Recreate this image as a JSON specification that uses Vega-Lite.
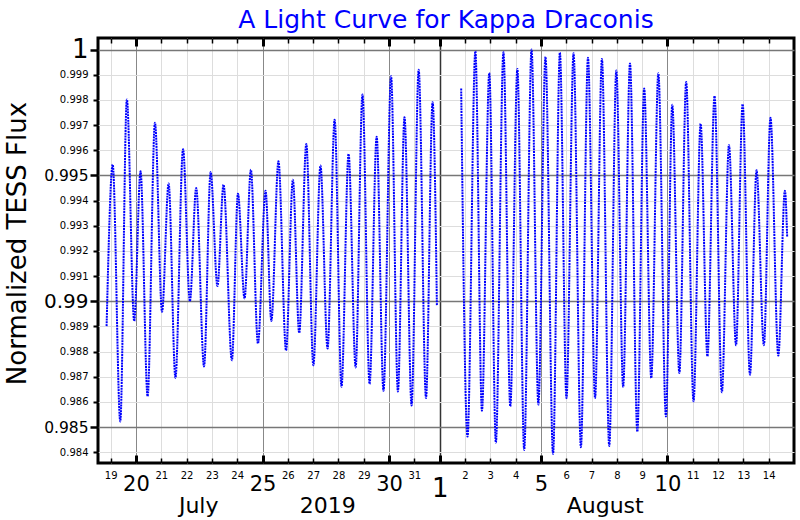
{
  "$schema": "https://vega.github.io/schema/vega-lite/v6.json",
  "width": 696,
  "height": 425,
  "autosize": "none",
  "padding": {"left": 98, "top": 38, "right": 6, "bottom": 57},
  "config": {
    "font": "DejaVu Sans",
    "view": {"stroke": "black", "strokeWidth": 3},
    "axis": {"labelColor": "black", "tickColor": "black", "domain": false, "labelFont": "DejaVu Sans", "titleFont": "DejaVu Sans"}
  },
  "title": {
    "text": "A Light Curve for Kappa Draconis",
    "color": "#0000ff",
    "fontSize": 25,
    "fontWeight": "normal",
    "font": "DejaVu Sans",
    "anchor": "middle",
    "offset": 4
  },
  "data": {
    "values": [
      {"day": 18.84, "flux": 0.98901, "seg": "a"},
      {"day": 19.08, "flux": 0.99543, "seg": "a"},
      {"day": 19.38, "flux": 0.98522, "seg": "a"},
      {"day": 19.64, "flux": 0.99802, "seg": "a"},
      {"day": 19.93, "flux": 0.98921, "seg": "a"},
      {"day": 20.18, "flux": 0.99516, "seg": "a"},
      {"day": 20.46, "flux": 0.98622, "seg": "a"},
      {"day": 20.75, "flux": 0.99709, "seg": "a"},
      {"day": 21.03, "flux": 0.98958, "seg": "a"},
      {"day": 21.29, "flux": 0.99468, "seg": "a"},
      {"day": 21.56, "flux": 0.98695, "seg": "a"},
      {"day": 21.86, "flux": 0.99604, "seg": "a"},
      {"day": 22.13, "flux": 0.99000, "seg": "a"},
      {"day": 22.38, "flux": 0.99450, "seg": "a"},
      {"day": 22.69, "flux": 0.98741, "seg": "a"},
      {"day": 22.95, "flux": 0.99513, "seg": "a"},
      {"day": 23.22, "flux": 0.99060, "seg": "a"},
      {"day": 23.46, "flux": 0.99463, "seg": "a"},
      {"day": 23.79, "flux": 0.98765, "seg": "a"},
      {"day": 24.03, "flux": 0.99427, "seg": "a"},
      {"day": 24.29, "flux": 0.99011, "seg": "a"},
      {"day": 24.54, "flux": 0.99522, "seg": "a"},
      {"day": 24.82, "flux": 0.98832, "seg": "a"},
      {"day": 25.12, "flux": 0.99439, "seg": "a"},
      {"day": 25.35, "flux": 0.98921, "seg": "a"},
      {"day": 25.63, "flux": 0.99556, "seg": "a"},
      {"day": 25.93, "flux": 0.98804, "seg": "a"},
      {"day": 26.20, "flux": 0.99483, "seg": "a"},
      {"day": 26.45, "flux": 0.98874, "seg": "a"},
      {"day": 26.73, "flux": 0.99625, "seg": "a"},
      {"day": 27.01, "flux": 0.98745, "seg": "a"},
      {"day": 27.29, "flux": 0.99539, "seg": "a"},
      {"day": 27.57, "flux": 0.98812, "seg": "a"},
      {"day": 27.85, "flux": 0.99721, "seg": "a"},
      {"day": 28.12, "flux": 0.98660, "seg": "a"},
      {"day": 28.40, "flux": 0.99585, "seg": "a"},
      {"day": 28.68, "flux": 0.98737, "seg": "a"},
      {"day": 28.95, "flux": 0.99821, "seg": "a"},
      {"day": 29.23, "flux": 0.98671, "seg": "a"},
      {"day": 29.51, "flux": 0.99654, "seg": "a"},
      {"day": 29.78, "flux": 0.98644, "seg": "a"},
      {"day": 30.08, "flux": 0.99894, "seg": "a"},
      {"day": 30.35, "flux": 0.98641, "seg": "a"},
      {"day": 30.61, "flux": 0.99731, "seg": "a"},
      {"day": 30.89, "flux": 0.98586, "seg": "a"},
      {"day": 31.17, "flux": 0.99920, "seg": "a"},
      {"day": 31.46, "flux": 0.98615, "seg": "a"},
      {"day": 31.72, "flux": 0.99791, "seg": "a"},
      {"day": 31.89, "flux": 0.98983, "seg": "a"},
      {"day": 32.85, "flux": 0.99845, "seg": "b"},
      {"day": 33.10, "flux": 0.98462, "seg": "b"},
      {"day": 33.41, "flux": 0.99993, "seg": "b"},
      {"day": 33.67, "flux": 0.98565, "seg": "b"},
      {"day": 33.96, "flux": 0.99907, "seg": "b"},
      {"day": 34.22, "flux": 0.98438, "seg": "b"},
      {"day": 34.52, "flux": 0.99989, "seg": "b"},
      {"day": 34.79, "flux": 0.98582, "seg": "b"},
      {"day": 35.07, "flux": 0.99923, "seg": "b"},
      {"day": 35.34, "flux": 0.98409, "seg": "b"},
      {"day": 35.63, "flux": 1.00000, "seg": "b"},
      {"day": 35.90, "flux": 0.98589, "seg": "b"},
      {"day": 36.18, "flux": 0.99971, "seg": "b"},
      {"day": 36.48, "flux": 0.98393, "seg": "b"},
      {"day": 36.75, "flux": 0.99988, "seg": "b"},
      {"day": 37.01, "flux": 0.98615, "seg": "b"},
      {"day": 37.29, "flux": 0.99985, "seg": "b"},
      {"day": 37.58, "flux": 0.98420, "seg": "b"},
      {"day": 37.86, "flux": 0.99968, "seg": "b"},
      {"day": 38.14, "flux": 0.98615, "seg": "b"},
      {"day": 38.41, "flux": 0.99963, "seg": "b"},
      {"day": 38.70, "flux": 0.98425, "seg": "b"},
      {"day": 38.98, "flux": 0.99917, "seg": "b"},
      {"day": 39.25, "flux": 0.98659, "seg": "b"},
      {"day": 39.52, "flux": 0.99945, "seg": "b"},
      {"day": 39.81, "flux": 0.98482, "seg": "b"},
      {"day": 40.08, "flux": 0.99845, "seg": "b"},
      {"day": 40.36, "flux": 0.98695, "seg": "b"},
      {"day": 40.64, "flux": 0.99906, "seg": "b"},
      {"day": 40.94, "flux": 0.98542, "seg": "b"},
      {"day": 41.19, "flux": 0.99781, "seg": "b"},
      {"day": 41.47, "flux": 0.98715, "seg": "b"},
      {"day": 41.74, "flux": 0.99871, "seg": "b"},
      {"day": 42.03, "flux": 0.98602, "seg": "b"},
      {"day": 42.31, "flux": 0.99705, "seg": "b"},
      {"day": 42.58, "flux": 0.98781, "seg": "b"},
      {"day": 42.86, "flux": 0.99815, "seg": "b"},
      {"day": 43.15, "flux": 0.98638, "seg": "b"},
      {"day": 43.43, "flux": 0.99621, "seg": "b"},
      {"day": 43.71, "flux": 0.98825, "seg": "b"},
      {"day": 43.97, "flux": 0.99783, "seg": "b"},
      {"day": 44.26, "flux": 0.98708, "seg": "b"},
      {"day": 44.52, "flux": 0.99520, "seg": "b"},
      {"day": 44.81, "flux": 0.98825, "seg": "b"},
      {"day": 45.07, "flux": 0.99729, "seg": "b"},
      {"day": 45.38, "flux": 0.98784, "seg": "b"},
      {"day": 45.64, "flux": 0.99439, "seg": "b"},
      {"day": 45.73, "flux": 0.99256, "seg": "b"}
    ]
  },
  "layer": [
    {
      "mark": {"type": "line", "interpolate": "monotone", "color": "#0000ff", "strokeWidth": 2, "strokeDash": [2, 0.8], "clip": true},
      "encoding": {
        "x": {
          "field": "day", "type": "quantitative",
          "scale": {"domain": [18.5, 46], "nice": false, "zero": false},
          "axis": {
            "orient": "bottom",
            "title": null,
            "values": [19,20,21,22,23,24,25,26,27,28,29,30,31,32,33,34,35,36,37,38,39,40,41,42,43,44,45],
            "format": "d",
            "labelExpr": "datum.value > 31 ? format(datum.value - 31, 'd') : datum.label",
            "labelOverlap": false,
            "labelFlush": false,
            "labelBaseline": "top",
            "labelFontSize": {"condition": [{"test": "datum.value == 32", "value": 26}, {"test": "indexof([20,25,30,36,41], datum.value) >= 0", "value": 21}], "value": 10},
            "tickSize": {"condition": {"test": "indexof([20,25,30,32,36,41], datum.value) >= 0", "value": -8}, "value": -5},
            "labelPadding": {"condition": [{"test": "datum.value == 32", "value": 20}, {"test": "indexof([20,25,30,36,41], datum.value) >= 0", "value": 18}], "value": 12},
            "tickWidth": {"condition": {"test": "indexof([20,25,30,32,36,41], datum.value) >= 0", "value": 3}, "value": 1.5},
            "grid": true,
            "gridColor": {"condition": [{"test": "datum.value == 32", "value": "#333333"}, {"test": "indexof([20,25,30,36,41], datum.value) >= 0", "value": "#888888"}], "value": "#dddddd"},
            "gridWidth": {"condition": {"test": "datum.value == 32", "value": 1.5}, "value": 1},
            "gridOpacity": 1
          }
        },
        "y": {
          "field": "flux", "type": "quantitative",
          "scale": {"domain": [0.98357, 1.00046], "nice": false, "zero": false},
          "axis": {
            "orient": "left",
            "title": "Normalized TESS Flux",
            "titleFontSize": 26,
            "titleFontWeight": "normal",
            "titleColor": "black",
            "titleX": -68,
            "titleY": 205,
            "values": [0.984,0.985,0.986,0.987,0.988,0.989,0.99,0.991,0.992,0.993,0.994,0.995,0.996,0.997,0.998,0.999,1],
            "format": ".3~f",
            "labelOverlap": false,
            "labelFlush": false,
            "labelFontSize": {"condition": [{"test": "round(datum.value*1000) == 1000", "value": 26}, {"test": "round(datum.value*1000) == 990", "value": 20}, {"test": "round(datum.value*1000) % 5 == 0", "value": 15.5}], "value": 10},
            "tickSize": {"condition": {"test": "round(datum.value*1000) % 5 == 0", "value": 8}, "value": 5},
            "labelPadding": {"condition": {"test": "round(datum.value*1000) % 5 == 0", "value": 2}, "value": 5},
            "tickWidth": {"condition": {"test": "round(datum.value*1000) % 5 == 0", "value": 2.5}, "value": 2},
            "grid": true,
            "gridColor": {"condition": {"test": "round(datum.value*1000) % 5 == 0", "value": "#777777"}, "value": "#dddddd"},
            "gridWidth": {"condition": {"test": "round(datum.value*1000) % 5 == 0", "value": 1.3}, "value": 1},
            "gridOpacity": 1
          }
        },
        "detail": {"field": "seg"}
      }
    },
    {
      "mark": {"type": "rule", "opacity": 0},
      "encoding": {
        "x": {
          "field": "day", "type": "quantitative",
          "axis": {
            "orient": "top",
            "title": null,
            "values": [19,20,21,22,23,24,25,26,27,28,29,30,31,32,33,34,35,36,37,38,39,40,41,42,43,44,45],
            "labels": false,
            "grid": false,
            "tickSize": {"condition": {"test": "indexof([20,25,30,32,36,41], datum.value) >= 0", "value": -8}, "value": -5},
            "tickWidth": {"condition": {"test": "indexof([20,25,30,32,36,41], datum.value) >= 0", "value": 3}, "value": 1.5}
          }
        }
      }
    },
    {
      "mark": {"type": "rule", "opacity": 0},
      "encoding": {
        "x": {
          "field": "day", "type": "quantitative",
          "axis": {
            "orient": "bottom",
            "title": null,
            "values": [22.46, 27.56, 38.52],
            "labelExpr": "datum.value < 25 ? 'July' : datum.value < 30 ? '2019' : 'August'",
            "labelFontSize": 22,
            "labelBaseline": "top",
            "labelOverlap": false,
            "labelFlush": false,
            "ticks": false,
            "tickSize": 0,
            "labelPadding": 32,
            "grid": false
          }
        }
      }
    }
  ],
  "resolve": {"axis": {"x": "independent"}}
}
